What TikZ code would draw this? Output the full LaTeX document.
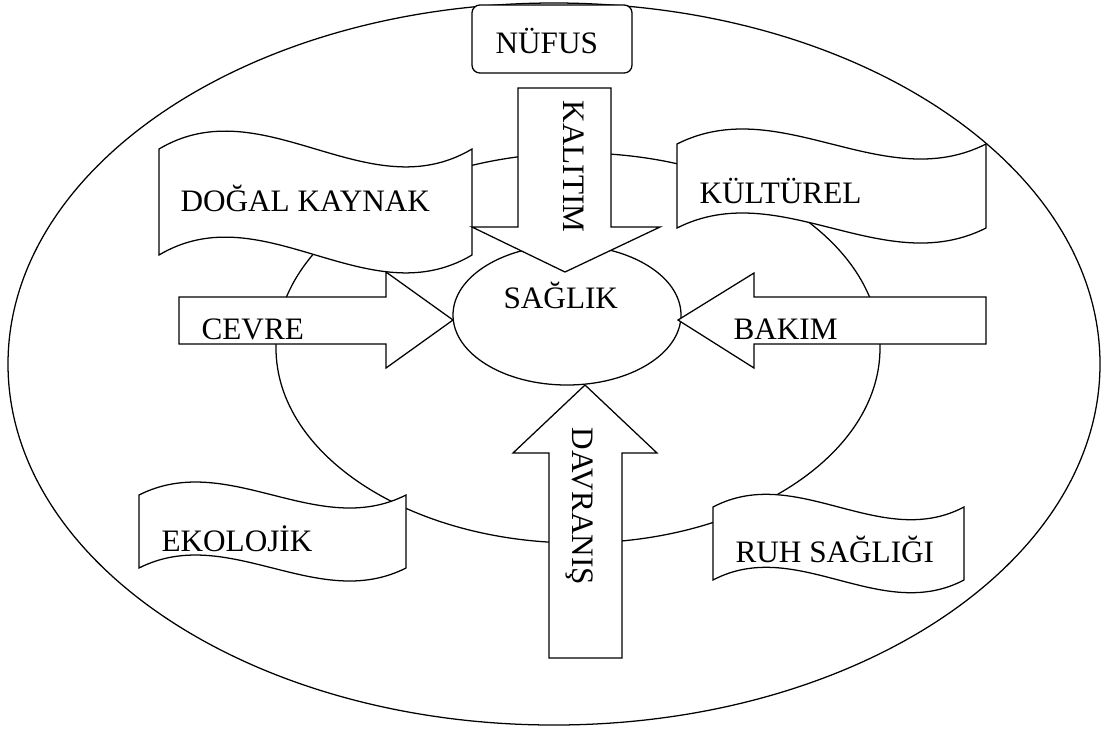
\documentclass[tikz,border=0pt]{standalone}
\usepackage{fontspec}
\setmainfont{Liberation Serif}
\usetikzlibrary{calc,positioning}

\tikzset{
  shapeline/.style={draw=black, fill=white, line width=0.45pt, line join=miter},
  lbl/.style={inner sep=0pt, anchor=base west, font=\fontsize{11.1}{13}\selectfont},
}

% wavy banner: left x, right x, top y, bottom y, bend
\newcommand{\wavebox}[5]{%
  \pgfmathsetmacro{\bw}{(#2-#1)/3}
  \draw[shapeline] (#1,#3) .. controls +(\bw,-#5) and +(-\bw,#5) .. (#2,#3)
    -- (#2,#4) .. controls +(-\bw,#5) and +(\bw,-#5) .. (#1,#4) -- cycle;}

\begin{document}
\begin{tikzpicture}[x=0.0125cm, y=-0.0125cm]
  \useasboundingbox (0,0) rectangle (1108,734);

  % rings
  \draw[line width=0.45pt] (554,364) ellipse [x radius=546, y radius=361];
  \draw[line width=0.45pt] (578,348) ellipse [x radius=302, y radius=195];
  \draw[shapeline] (567,315) ellipse [x radius=114, y radius=70];

  % banners
  \wavebox{159}{472}{149}{255}{62}
  \wavebox{677}{986}{144}{228}{52}
  \wavebox{139}{406}{495}{568}{45}
  \wavebox{713}{964}{507}{580}{44}

  % arrows
  \draw[shapeline] (179,297) -- (386,297) -- (386,272) -- (453,320) -- (386,368) -- (386,344) -- (179,344) -- cycle;
  \draw[shapeline] (986,297) -- (754,297) -- (754,273) -- (678,320) -- (754,368) -- (754,344) -- (986,344) -- cycle;
  \draw[shapeline] (518,88) -- (611,88) -- (611,227) -- (660,227) -- (565,272) -- (472,227) -- (518,227) -- cycle;
  \draw[shapeline] (549,658) -- (549,453) -- (513,453) -- (585,385) -- (657,453) -- (622,453) -- (622,658) -- cycle;

  % top box
  \draw[shapeline, rounded corners=2.8pt] (472,5) rectangle (632,73);

  % labels
  \node[lbl] (nufus) at (495,53) {NÜFUS};
  \node[lbl] (saglik) at (503,308) {SAĞLIK};
  \node[lbl] (dogal) at (180,211) {DOĞAL KAYNAK};
  \node[lbl] (kulturel) at (699,203) {KÜLTÜREL};
  \node[lbl] (ekolojik) at (161,551) {EKOLOJİK};
  \node[lbl] (ruh) at (735,562) {RUH SAĞLIĞI};
  \node[lbl] (cevre) at (201,339) {CEVRE};
  \node[lbl] (bakim) at (733,339) {BAKIM};
  \node[lbl, rotate=-90] (kalitim) at (563,100) {KALITIM};
  \node[lbl, rotate=-90] (davranis) at (572,427) {DAVRANIŞ};
\end{tikzpicture}
\end{document}
